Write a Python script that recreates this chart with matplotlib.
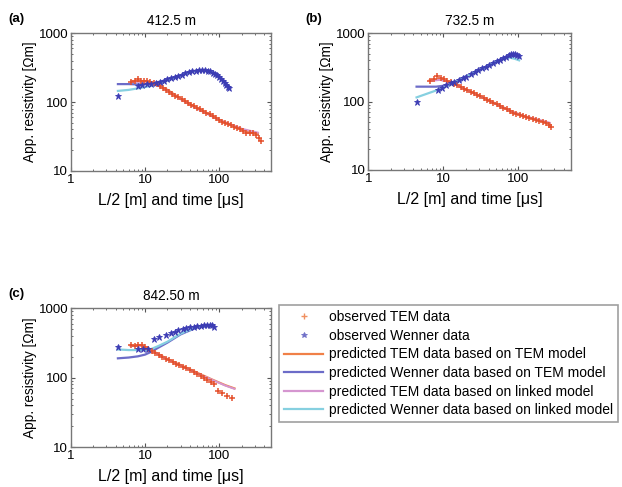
import matplotlib
matplotlib.use("Agg")
import matplotlib.pyplot as plt
from matplotlib.lines import Line2D

plt.rcParams['font.family'] = ['Liberation Sans', 'DejaVu Sans']

# ---- (a) 412.5 m ----
a_tem_t = [6.5, 7.2, 8.0, 8.8, 9.7, 10.7, 11.8, 13, 14.3, 15.8, 17.4, 19.2, 21, 23, 25.5, 28, 31, 34,
           37.5, 41, 45.5, 50, 55, 61, 67, 74, 81, 89, 98, 108, 119, 131, 144, 158, 174, 192, 211,
           232, 256, 282, 310, 340, 360]
a_tem_obs = [195, 200, 215, 205, 200, 205, 195, 190, 180, 170, 160, 150, 140, 132, 124, 117, 110, 104,
             98, 92, 87, 82, 78, 73, 69, 66, 62, 58, 55, 52, 50, 48, 46, 44, 42, 40, 38,
             36, 35, 36, 33, 30, 27]
a_tem_line_t = [6.5, 10, 13, 20, 30, 50, 100, 200, 330]
a_tem_pred = [200, 200, 190, 150, 112, 82, 55, 40, 35]
a_tem_link = [195, 198, 186, 148, 110, 80, 55, 41, 36]

a_wen_l = [4.3, 8.0, 9.0, 10.5, 12, 14, 16, 18, 20, 22, 25, 28, 31, 35, 39, 43, 48, 53, 58, 64,
           70, 76, 82, 88, 94, 100, 106, 112, 118, 124, 130, 136]
a_wen_obs = [122, 170, 178, 180, 185, 190, 195, 205, 215, 220, 230, 240, 250, 262, 272, 280, 285, 288,
             290, 288, 285, 278, 268, 256, 243, 230, 215, 200, 188, 178, 168, 160]
a_wen_line_l = [4.3, 6, 8, 10, 13, 20, 30, 45, 60, 80, 100, 120, 136]
a_wen_pred = [182, 182, 180, 182, 188, 210, 245, 282, 290, 270, 230, 190, 165]
a_wen_link = [145, 150, 158, 165, 175, 205, 243, 280, 288, 268, 228, 188, 163]

# ---- (b) 732.5 m ----
b_tem_t = [6.6, 7.4, 8.3, 9.2, 10.2, 11.3, 12.5, 13.8, 15.3, 17, 18.8, 20.8, 23, 25.5, 28.2, 31.2,
           34.5, 38, 42, 46.5, 51.5, 57, 63, 70, 77, 85, 94, 104, 115, 127, 140, 155, 171, 189,
           209, 231, 255, 270]
b_tem_obs = [200, 215, 235, 220, 210, 200, 190, 180, 172, 163, 155, 148, 140, 133, 126, 119,
             113, 107, 101, 96, 91, 86, 81, 77, 72, 69, 66, 63, 61, 60, 58, 56, 54, 52,
             50, 48, 46, 43]
b_tem_line_t = [6.6, 9, 12, 15, 20, 30, 50, 80, 120, 200, 260]
b_tem_pred = [205, 210, 195, 175, 150, 122, 93, 72, 61, 52, 48]
b_tem_link = [200, 207, 193, 173, 149, 121, 92, 72, 61, 53, 49]

b_wen_l = [4.4, 8.5, 9.5, 11, 12.5, 14, 16, 18, 20, 23, 26, 29, 33, 37, 41, 46, 51, 57, 63, 69,
           75, 80, 85, 90, 96, 102]
b_wen_obs = [98, 145, 160, 175, 185, 192, 205, 220, 232, 250, 268, 285, 305, 325, 345, 365, 385,
             405, 430, 455, 480, 495, 500, 490, 480, 470]
b_wen_line_l = [4.4, 8, 10, 13, 20, 30, 45, 60, 75, 90, 102]
b_wen_pred = [165, 165, 170, 185, 235, 290, 360, 420, 470, 470, 455]
b_wen_link = [115, 145, 160, 180, 230, 285, 355, 410, 440, 420, 400]

# ---- (c) 842.50 m ----
c_tem_t = [6.4, 7.2, 8.0, 9.0, 10, 11, 12.3, 13.7, 15.2, 17, 19, 21, 23.5, 26, 29, 32.5, 36, 40,
           45, 50, 56, 62, 69, 77, 86, 97, 108, 125, 146]
c_tem_obs = [295, 290, 300, 295, 275, 255, 240, 225, 212, 200, 188, 177, 168, 160, 152, 143, 136,
             128, 120, 112, 105, 99, 93, 88, 80, 64, 60, 55, 51]
c_tem_line_t = [6.4, 9, 12, 20, 30, 50, 80, 120, 160]
c_tem_pred = [290, 290, 250, 185, 152, 118, 94, 78, 70]
c_tem_link = [285, 288, 248, 183, 150, 116, 93, 77, 69]

c_wen_l = [4.3, 8, 9.5, 11, 13, 15.5, 19, 22, 25, 28, 32, 36, 40, 45, 50, 56, 62, 68, 74, 80, 86]
c_wen_obs = [275, 260, 255, 260, 355, 385, 410, 440, 460, 480, 500, 515, 530, 545, 555, 560, 565,
             570, 575, 580, 540]
c_wen_line_l = [4.3, 6, 8, 10, 12, 15, 20, 30, 50, 80]
c_wen_pred = [190, 195, 203, 215, 235, 270, 320, 420, 530, 560]
c_wen_link = [255, 250, 250, 250, 258, 285, 330, 430, 540, 570]

panels = [
    ("(a)", "412.5 m", [0.114, 0.649, 0.322, 0.283],
     a_tem_t, a_tem_obs, a_tem_line_t, a_tem_pred, a_tem_link,
     a_wen_l, a_wen_obs, a_wen_line_l, a_wen_pred, a_wen_link),
    ("(b)", "732.5 m", [0.592, 0.651, 0.326, 0.281],
     b_tem_t, b_tem_obs, b_tem_line_t, b_tem_pred, b_tem_link,
     b_wen_l, b_wen_obs, b_wen_line_l, b_wen_pred, b_wen_link),
    ("(c)", "842.50 m", [0.114, 0.082, 0.322, 0.285],
     c_tem_t, c_tem_obs, c_tem_line_t, c_tem_pred, c_tem_link,
     c_wen_l, c_wen_obs, c_wen_line_l, c_wen_pred, c_wen_link),
]

col_tem_obs = '#e4502c'
col_wen_obs = '#3c3cb4'
col_tem_pred = '#f08048'
col_wen_pred = '#6c6cc8'
col_tem_link = '#d596d0'
col_wen_link = '#86d0e0'

fig = plt.figure(figsize=(6.22, 4.87), dpi=100)

for (lab, title, pos, tt, tobs, tlt, tpred, tlink, wl, wobs, wll, wpred, wlink) in panels:
    ax = fig.add_axes(pos)
    ax.plot(tlt, tpred, color=col_tem_pred, lw=1.6)
    ax.plot(wll, wpred, color=col_wen_pred, lw=1.6)
    ax.plot(tlt, tlink, color=col_tem_link, lw=1.4)
    ax.plot(wll, wlink, color=col_wen_link, lw=1.6)
    ax.plot(tt, tobs, ls='none', marker='+', ms=5, mew=1.1, color=col_tem_obs)
    ax.plot(wl, wobs, ls='none', marker='*', ms=4.5, mew=0.6, color=col_wen_obs)
    ax.set_xscale('log')
    ax.set_yscale('log')
    ax.set_xlim(1, 500)
    ax.set_ylim(10, 1000)
    ax.set_xticks([1, 10, 100])
    ax.set_xticklabels(['1', '10', '100'])
    ax.set_yticks([10, 100, 1000])
    ax.set_yticklabels(['10', '100', '1000'])
    ax.tick_params(which='both', direction='in', top=True, right=True, labelsize=9.5,
                   color='#555555', pad=2)
    ax.tick_params(which='major', length=3)
    ax.tick_params(which='minor', length=1.5)
    for s in ax.spines.values():
        s.set_color('#777777')
        s.set_linewidth(1.0)
    ax.set_title(title, fontsize=9.8, pad=6)
    ax.set_xlabel('L/2 [m] and time [\u03bcs]', fontsize=11.5, labelpad=5)
    ax.set_ylabel('App. resistivity [\u03a9m]', fontsize=9.8, labelpad=1)
    ax.text(-0.31, 1.10, lab, transform=ax.transAxes, fontsize=9.5, fontweight='bold',
            va='center', ha='left')

handles = [
    Line2D([], [], ls='none', marker='+', ms=4, mew=1.0, color='#f09060'),
    Line2D([], [], ls='none', marker='*', ms=4, mew=0.6, color='#7070c8'),
    Line2D([], [], color=col_tem_pred, lw=1.6),
    Line2D([], [], color=col_wen_pred, lw=1.6),
    Line2D([], [], color=col_tem_link, lw=1.6),
    Line2D([], [], color=col_wen_link, lw=1.6),
]
labels = [
    'observed TEM data',
    'observed Wenner data',
    'predicted TEM data based on TEM model',
    'predicted Wenner data based on TEM model',
    'predicted TEM data based on linked model',
    'predicted Wenner data based on linked model',
]
leg = fig.legend(handles, labels, loc='upper left', bbox_to_anchor=(0.449, 0.373),
                 fontsize=10, frameon=True, fancybox=False, handlelength=2.8,
                 handletextpad=0.4, borderpad=0.35, labelspacing=0.33, borderaxespad=0)
leg.get_frame().set_edgecolor('#888888')
leg.get_frame().set_linewidth(1.2)

fig.savefig('out.png', dpi=100)
